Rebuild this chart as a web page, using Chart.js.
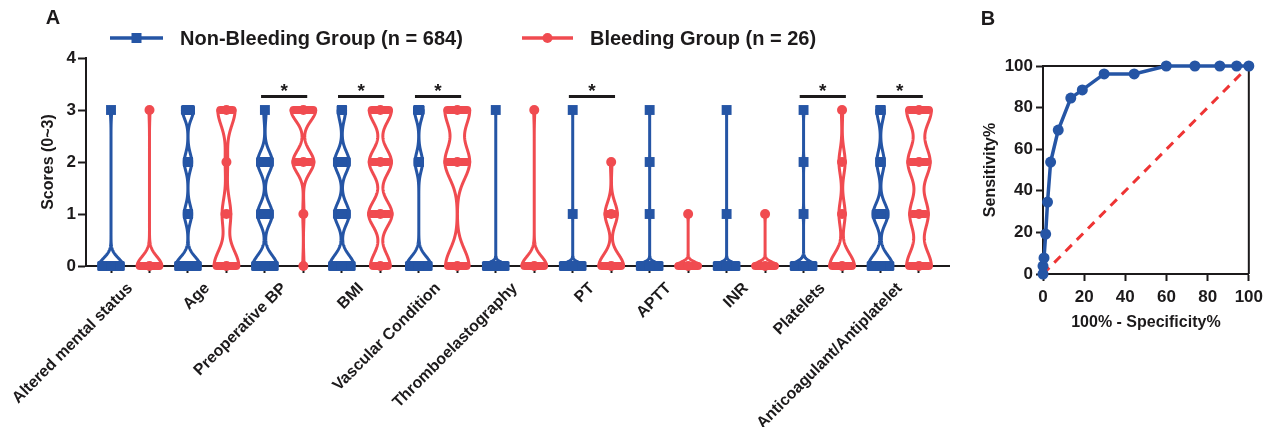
<!DOCTYPE html>
<html><head><meta charset="utf-8">
<script src="https://cdn.jsdelivr.net/npm/chart.js@4.4.1/dist/chart.umd.min.js"></script>
<style>
html,body{margin:0;padding:0;background:#fff;width:1269px;height:427px;overflow:hidden}
#ca{position:absolute;left:0;top:0}
#cb{position:absolute;left:970px;top:0}
</style></head><body>
<canvas id="ca" width="965" height="427"></canvas>
<canvas id="cb" width="299" height="427"></canvas>
<script>
// ---------- DATA ----------
const features = ['Altered mental status','Age','Preoperative BP','BMI','Vascular Condition','Thromboelastography','PT','APTT','INR','Platelets','Anticoagulant/Antiplatelet'];
const groupLabels = ['Non-Bleeding Group (n = 684)','Bleeding Group (n = 26)'];
const scoreTicks = [0,1,2,3,4];
// relative violin density at score 0,1,2,3
const nonBleedingDensity = [
  [1,0,0,0.05],[1,0.3,0.3,0.45],[1,0.6,0.6,0.1],[1,0.6,0.6,0.3],[1,0,0.3,0.35],
  [1,0,0,0.02],[1,0.02,0,0.02],[1,0.02,0.02,0.02],[1,0.02,0,0.02],[1,0.05,0.05,0.05],[1,0.6,0.3,0.3]
];
const bleedingDensity = [
  [1,0,0,0.04],[1,0.35,0.1,0.7],[0.05,0.05,0.85,1],[0.8,0.95,0.9,0.9],[0.95,0,1,1],
  [1,0,0,0.04],[1,0.5,0.06,0],[1,0.04,0,0],[1,0.04,0,0],[1,0.25,0.25,0.05],[1,0.75,0.9,1]
];
// kernel spread (score units) of each violin
const nonBleedingSpread = [0.15,0.17,0.2,0.2,0.18,0.06,0.06,0.06,0.06,0.08,0.2];
const bleedingSpread    = [0.18,0.3,0.21,0.24,0.32,0.18,0.22,0.07,0.07,0.24,0.3];
const significantFeatures = ['Preoperative BP','BMI','Vascular Condition','PT','Platelets','Anticoagulant/Antiplatelet'];
// ROC curve
const rocFpr  = [0,0,0.5,1.3,2.2,3.7,7.4,13.5,19.1,29.7,44.3,59.9,73.8,85.9,94.1,100];
const rocSens = [0,3.8,7.7,19.2,34.6,53.8,69.2,84.6,88.5,96.2,96.2,100,100,100,100,100];
const refLineX = [0,100];
const refLineY = [0,100];

// ---------- STYLE ----------
const BLUE='#2555a5', RED='#f04b50', RED2='#ee3434', INK='#1c1a1b';
const FONT="'Liberation Sans', Arial, Helvetica, sans-serif";
Chart.defaults.font.family=FONT;
Chart.defaults.color=INK;

function markerPoints(dens,g){
  const out=[];
  dens.forEach((d,f)=>d.forEach((p,k)=>{ if(p>0) out.push({x:2*f+g,y:k}); }));
  return out;
}

const violinPlugin={
  id:'violins',
  beforeDatasetsDraw(chart){
    const {ctx,scales:{x,y}}=chart;
    const unit=x.getPixelForValue(1)-x.getPixelForValue(0);
    const W=0.32*unit;
    [[nonBleedingDensity,nonBleedingSpread,BLUE,0],[bleedingDensity,bleedingSpread,RED,1]].forEach(([dens,bws,color,g])=>{
      dens.forEach((p,f)=>{
        const cx=x.getPixelForValue(2*f+g);
        const bw=bws[f];
        const hw=v=>W*p.reduce((s,pk,k)=>s+pk*Math.exp(-0.5*((v-k)/bw)**2),0);
        const levels=[];p.forEach((pk,k)=>{if(pk>0)levels.push(k);});
        const lo=levels[0],hi=levels[levels.length-1];
        ctx.save();
        ctx.strokeStyle=color;ctx.fillStyle=color;ctx.lineWidth=3;ctx.lineJoin='round';ctx.lineCap='round';
        ctx.beginPath();
        const N=240;
        for(let i=0;i<=N;i++){const v=lo+(hi-lo)*i/N;const px=cx-hw(v),py=y.getPixelForValue(v);i?ctx.lineTo(px,py):ctx.moveTo(px,py);}
        for(let i=N;i>=0;i--){const v=lo+(hi-lo)*i/N;ctx.lineTo(cx+hw(v),y.getPixelForValue(v));}
        ctx.closePath();ctx.stroke();
        levels.forEach(k=>{
          const w=2*hw(k)+3,h=g===0?10:8;
          if(w>10){const py=y.getPixelForValue(k);ctx.beginPath();ctx.roundRect(cx-w/2,py-h/2,w,h,g===0?1.5:4);ctx.fill();}
        });
        ctx.restore();
      });
    });
  },
  afterDatasetsDraw(chart){
    const {ctx,scales:{x,y}}=chart;
    const unit=x.getPixelForValue(1)-x.getPixelForValue(0);
    ctx.save();
    significantFeatures.forEach(name=>{
      const f=features.indexOf(name);
      const c=x.getPixelForValue(2*f+0.5);
      const ly=y.getPixelForValue(3.26);
      ctx.strokeStyle=INK;ctx.lineWidth=3;ctx.lineCap='butt';
      ctx.beginPath();ctx.moveTo(c-0.6*unit,ly);ctx.lineTo(c+0.6*unit,ly);ctx.stroke();
      ctx.fillStyle=INK;ctx.font='bold 19px '+FONT;ctx.textAlign='center';ctx.textBaseline='alphabetic';
      ctx.fillText('*',c,ly+1);
    });
    ctx.restore();
  },
  afterDraw(chart){
    const {ctx}=chart;
    ctx.save();
    ctx.fillStyle=INK;ctx.font='bold 20px '+FONT;ctx.textBaseline='middle';ctx.textAlign='center';
    ctx.fillText('A',53,18);
    // legend
    const items=[[groupLabels[0],BLUE,'rect',110,163,180],[groupLabels[1],RED,'circle',522,573,590]];
    items.forEach(([t,col,shape,x0,x1,tx])=>{
      const ly=38;
      ctx.strokeStyle=col;ctx.lineWidth=3.5;ctx.beginPath();ctx.moveTo(x0,ly);ctx.lineTo(x1,ly);ctx.stroke();
      ctx.fillStyle=col;ctx.beginPath();
      if(shape==='rect')ctx.rect((x0+x1)/2-5,ly-5,10,10);else ctx.arc((x0+x1)/2,ly,5,0,Math.PI*2);
      ctx.fill();
      ctx.fillStyle=INK;ctx.font='bold 20px '+FONT;ctx.textAlign='left';ctx.textBaseline='middle';
      ctx.fillText(t,tx,ly+1);
    });
    ctx.restore();
  }
};

new Chart(document.getElementById('ca'),{
  type:'scatter',
  data:{datasets:[
    {label:groupLabels[0],data:markerPoints(nonBleedingDensity,0),pointStyle:'rect',pointRadius:7,backgroundColor:BLUE,borderColor:BLUE,borderWidth:0,showLine:false,clip:false},
    {label:groupLabels[1],data:markerPoints(bleedingDensity,1),pointStyle:'circle',pointRadius:5,backgroundColor:RED,borderColor:RED,borderWidth:0,showLine:false,clip:false}
  ]},
  options:{
    responsive:false,animation:false,devicePixelRatio:1,
    layout:{padding:{left:36,top:58,right:16,bottom:0}},
    plugins:{legend:{display:false},tooltip:{enabled:false}},
    scales:{
      x:{type:'linear',min:-0.65,max:21.78,
        afterBuildTicks(s){const t=[];for(let i=0;i<22;i++)t.push({value:i});for(let f=0;f<features.length;f++)t.push({value:2*f+0.5});t.sort((a,b)=>a.value-b.value);s.ticks=t;},
        afterFit(s){s.height=161;},
        ticks:{autoSkip:false,minRotation:45,maxRotation:45,font:{size:16,weight:'bold'},color:INK,padding:6,
          callback:(v)=>Number.isInteger(v)?'':features[(v-0.5)/2]},
        grid:{drawOnChartArea:false,tickLength:7,tickWidth:2,tickColor:(c)=>(c.tick&&Number.isInteger(c.tick.value))?INK:'rgba(0,0,0,0)'},
        border:{color:INK,width:2}},
      y:{min:0,max:4,
        afterBuildTicks(s){s.ticks=scoreTicks.map(v=>({value:v}));},
        afterFit(s){s.width=50;},
        ticks:{font:{size:17,weight:'bold'},color:INK,padding:2},
        grid:{drawOnChartArea:false,tickLength:8,tickWidth:2,tickColor:INK},
        border:{color:INK,width:2},
        title:{display:true,text:'Scores (0~3)',font:{size:16,weight:'bold'},color:INK,padding:{top:3,bottom:0}}}
    }
  },
  plugins:[violinPlugin]
});

const framePlugin={
  id:'frame',
  beforeDatasetsDraw(chart){
    const {ctx,chartArea:a}=chart;
    ctx.save();ctx.strokeStyle=INK;ctx.lineWidth=2;
    ctx.beginPath();ctx.moveTo(a.left,a.top);ctx.lineTo(a.right,a.top);ctx.lineTo(a.right,a.bottom);ctx.stroke();
    ctx.restore();
  },
  afterDraw(chart){
    const {ctx}=chart;
    ctx.save();ctx.fillStyle=INK;ctx.font='bold 20px '+FONT;ctx.textAlign='center';ctx.textBaseline='middle';
    ctx.fillText('B',18,19);ctx.restore();
  }
};

new Chart(document.getElementById('cb'),{
  type:'scatter',
  data:{datasets:[
    {label:'ROC',data:rocFpr.map((v,i)=>({x:v,y:rocSens[i]})),showLine:true,borderColor:BLUE,backgroundColor:BLUE,borderWidth:3.5,pointRadius:5.5,pointBorderWidth:0,tension:0,clip:false},
    {label:'Reference',data:refLineX.map((v,i)=>({x:v,y:refLineY[i]})),showLine:true,borderColor:RED2,borderWidth:3,borderDash:[9,7],pointRadius:0,clip:false}
  ]},
  options:{
    responsive:false,animation:false,devicePixelRatio:1,
    layout:{padding:{left:8,top:66,right:20,bottom:92}},
    plugins:{legend:{display:false},tooltip:{enabled:false}},
    scales:{
      x:{min:0,max:100,ticks:{stepSize:20,font:{size:17,weight:'bold'},color:INK,padding:6},
        afterFit(s){s.height=61;},
        grid:{drawOnChartArea:false,tickLength:7,tickWidth:2,tickColor:INK},border:{color:INK,width:2},
        title:{display:true,text:'100% - Specificity%',font:{size:16,weight:'bold'},color:INK,padding:{top:0,bottom:3}}},
      y:{min:0,max:100,ticks:{stepSize:20,font:{size:17,weight:'bold'},color:INK,padding:3},
        afterFit(s){s.width=65;},
        grid:{drawOnChartArea:false,tickLength:7,tickWidth:2,tickColor:INK},border:{color:INK,width:2},
        title:{display:true,text:'Sensitivity%',font:{size:16,weight:'bold'},color:INK,padding:{top:3,bottom:0}}}
    }
  },
  plugins:[framePlugin]
});
</script>
</body></html>
